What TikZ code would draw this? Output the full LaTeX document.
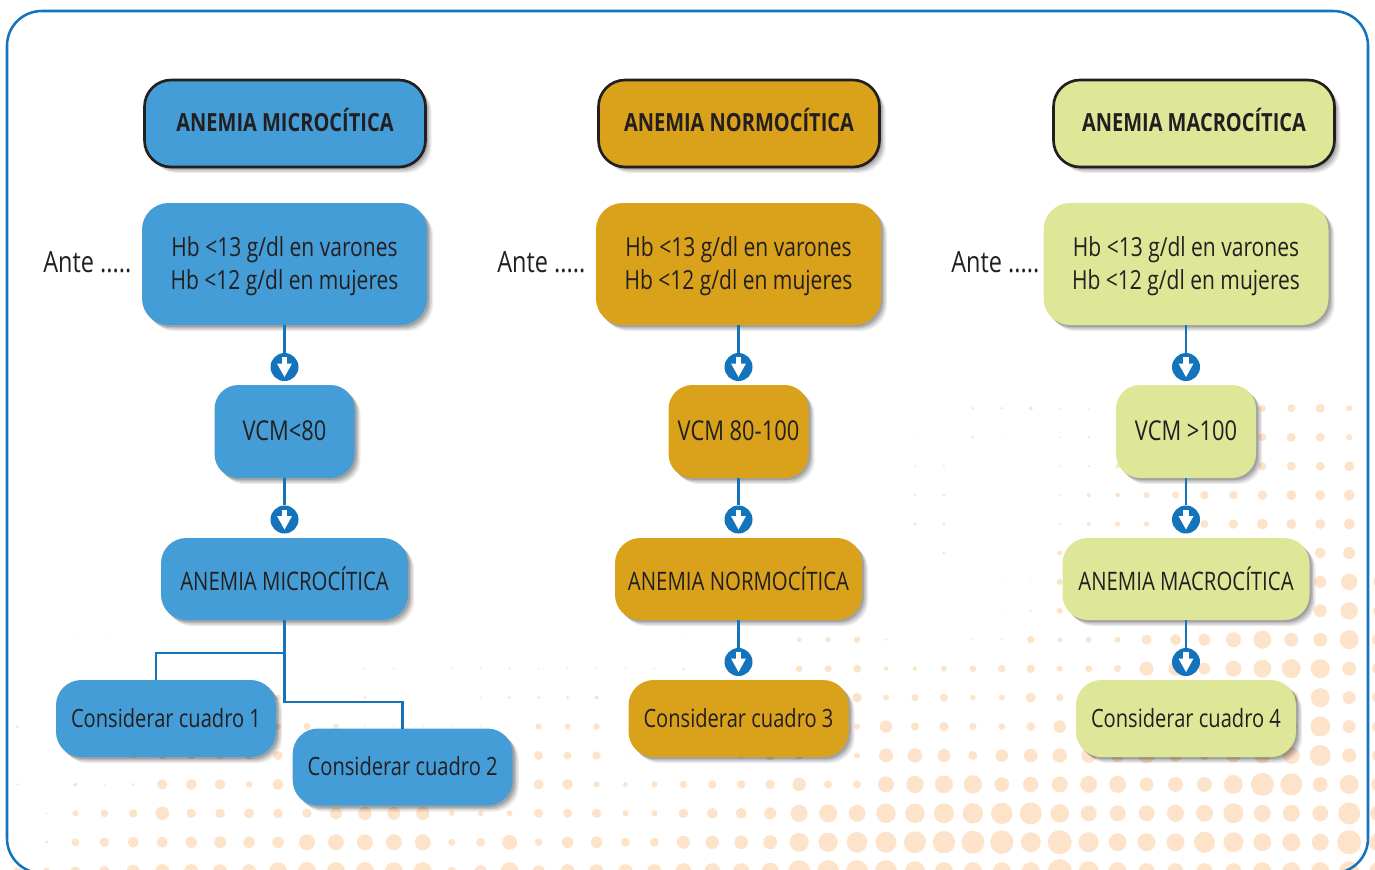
\documentclass[tikz,border=0pt]{standalone}
\usepackage{fontspec}
\setmainfont[FakeStretch=0.8]{Open Sans}
\usetikzlibrary{shadows}
\definecolor{blueF}{HTML}{449DD6}
\definecolor{goldF}{HTML}{DAA11A}
\definecolor{greenF}{HTML}{DDE797}
\definecolor{lineC}{HTML}{1374BC}
\definecolor{dotC}{HTML}{FDE3CA}
\definecolor{inkC}{HTML}{231F20}
\newcommand\dotrow[2]{\foreach \dk/\dr in {#2}{\fill[dotC] ({17.5+28.95*\dk},{408.3+28.93*#1}) circle[radius=\dr];}}
\newcommand\hbtext{\rule{0pt}{18.5pt}Hb <13 g/dl en varones\\Hb <12 g/dl en mujeres}
\tikzset{
  softshadow/.style={
    general shadow={fill=black,opacity=.07,shadow xshift=4.6pt,shadow yshift=-4.6pt},
    general shadow={fill=black,opacity=.09,shadow xshift=3.6pt,shadow yshift=-3.6pt},
    general shadow={fill=black,opacity=.12,shadow xshift=2.6pt,shadow yshift=-2.6pt},
    general shadow={fill=black,opacity=.15,shadow xshift=1.5pt,shadow yshift=-1.5pt}},
  size/.style 2 args={minimum width=#1*0.75pt,minimum height=#2*0.75pt},
  box/.style={softshadow,inner sep=0pt,outer sep=0pt,text=inkC,align=center},
  headbox/.style={box,draw=inkC,line width=2pt,size={281}{87},rounded corners=20pt,
    text depth=5pt,font=\fontsize{18.75pt}{24pt}\selectfont\bfseries},
  hbbox/.style={box,size={285}{122},rounded corners=20pt,
    font=\fontsize{19.7pt}{24.75pt}\selectfont},
  vcmbox/.style={box,size={140}{93},rounded corners=18pt,text depth=1.5pt,
    font=\fontsize{20.5pt}{24pt}\selectfont},
  anebox/.style={box,size={247}{82},rounded corners=19pt,
    font=\fontsize{19.1pt}{24pt}\selectfont},
  cuabox/.style={box,size={220}{77},rounded corners=19pt,
    font=\fontsize{18.85pt}{24pt}\selectfont},
  antetext/.style={text=inkC,inner sep=0pt,font=\fontsize{22pt}{26pt}\selectfont},
  link/.style={draw=lineC,line width=2.1pt},
  arrowdot/.style={circle,fill=lineC,inner sep=0pt,minimum size=21pt,
    path picture={
      \fill[white] ([shift={(-2.7,-10)}]path picture bounding box.center) rectangle ([shift={(2.7,-2)}]path picture bounding box.center);
      \fill[white] ([shift={(-7.5,-3.5)}]path picture bounding box.center) -- ([shift={(7.5,-3.5)}]path picture bounding box.center) -- ([shift={(0,10)}]path picture bounding box.center) -- cycle;
    }},
}
\begin{document}
\begin{tikzpicture}[x=0.75pt,y=-0.75pt]
\useasboundingbox (0,0) rectangle (1375,869);
\clip (0,0) rectangle (1375,869);
% halftone dots
\dotrow{0}{33/1.5,34/1.5,35/2,36/1,37/1,43/3.5,44/4,45/4.5,46/3}
\dotrow{1}{31/0.7,33/1.5,34/0.7,35/0.5,36/1,37/1.2,43/4,44/4.5,45/4.5,46/3.2}
\dotrow{2}{31/1,32/1.2,34/0.5,35/0.5,36/1,37/1.2,38/2,43/4,44/4.5,45/4.5,46/5,47/2}
\dotrow{3}{31/1.3,32/1.5,36/1.3,37/2,38/2.3,39/3,40/3.5,41/4.2,42/4.3,43/4.7,44/5,45/5,46/5.5,47/3}
\dotrow{4}{31/1.7,32/1.7,36/1.5,37/2,38/2.5,39/2.7,40/3.5,41/4,42/4.7,43/5.5,44/5,45/5,46/5.5,47/3}
\dotrow{5}{31/0.3,32/1.5,34/0.3,35/0.3,36/2.5,45/5.5,46/6,47/3}
\dotrow{6}{31/0.3,34/0.7,35/0.7,36/3,45/6,46/8.3,47/5}
\dotrow{7}{32/0.3,33/0.5,34/0.7,35/1.2,36/3,45/6.5,46/8.7,47/5}
\dotrow{8}{2/0.7,3/0.7,12/0.3,17/0.3,18/0.3,21/0.3,22/0.5,23/0.8,27/2.3,28/2.7,29/3.3,30/1.2,31/0.5,32/0.7,33/1,34/1,35/3.7,36/2.5,37/3,38/3,39/5,40/5.5,41/6,42/7.5,43/9,44/7,45/7,46/9.5,47/6}
\dotrow{9}{12/1,13/1,15/1,16/1,17/1.2,18/1,19/1,20/1,21/1,22/1,23/1.5,26/0.4,27/3.3,28/3.5,29/4,30/2.2,31/2.2,32/3,33/3.3,34/3.7,35/4.2,36/3,37/3.5,38/3.5,39/7,40/7,41/6,42/8,43/9,44/9.5,45/9.5,46/7,47/6}
\dotrow{10}{4/1.7,9/3,12/1.7,16/1,17/1.7,18/1.7,19/1.7,20/2,29/4.8,30/3,31/3.6,32/4,33/2.7,34/3,35/5,36/3.7,44/7,45/9.5,46/6.5,47/6}
\dotrow{11}{0/1.5,4/2,9/3.3,10/3.5,11/2.7,12/1,13/1,14/1,15/0.8,16/1,17/0.7,18/3,19/3,20/3.3,29/3,30/6.2,31/4.2,32/4.8,33/3.7,34/3.3,35/4.3,36/6.3,44/6,45/10,46/6.5,47/6}
\dotrow{12}{0/0.4,4/2.8,5/4,6/4,7/4,8/4,9/4.5,18/4.5,19/4,20/4.2,21/0.5,25/3,26/5,27/4,29/3,30/7,31/7.3,32/6.5,33/4.5,34/6.3,35/6.8,36/7.2,37/7.5,38/6.5,39/8,40/6.5,41/5,42/7,43/8,44/8.5,45/10.5,46/7,47/6}
\dotrow{13}{0/1.2,1/0.3,2/2,3/1,4/1.5,5/5.2,6/5.5,7/5.3,8/3.3,9/5.5,18/5,19/5.3,20/3,21/2.4,22/3.2,23/3.7,24/4.2,25/4.2,26/4.8,27/6.8,28/4,29/4,30/8,31/8.7,32/9,33/9.2,34/7.3,35/7.7,36/8,37/8.5,38/8.5,39/7,40/7.5,41/7.5,42/9.5,43/11.5,44/11,45/7.5,46/9.5,47/7}
\dotrow{14}{0/0.2,1/1,2/3.2,3/3.8,4/4.2,5/6.8,6/4.7,7/4.8,8/5,9/4.8,10/4.8,11/6,12/6.7,13/6.5,14/6.7,15/2.8,16/2.8,17/3,18/4.5,19/4.5,20/4.7,21/3,22/3.2,23/4.8,24/5.4,25/5.5,26/6,27/8.5,28/9,29/8.4,30/9.7,31/9.8,32/10,33/10.3,34/10.7,35/11,36/9.3,37/8,38/8,39/8,40/8.5,41/8.5,42/10,43/8.5,44/8.5,45/8,46/11,47/8}
\dotrow{15}{0/0.5,1/1.6,2/4,3/4.8,4/5.5,5/5.5,6/5.7,7/6,8/5.8,9/5.8,10/8,11/8,12/8,13/8,14/8,15/3.5,16/4.5,17/7.5,18/3.8,19/5.7,20/5.8,21/4.5,22/4.5,23/6.5,24/6.7,25/6.8,26/7,27/9.5,28/9.7,29/10.3,30/10.5,31/11,32/11.2,33/11.5,34/11.7,35/10,36/12,37/10,38/9,39/9,40/9,41/10.5,42/10,43/9,44/9,45/8.5,46/12,47/9}
\dotrow{16}{0/4,1/3.5,2/5,3/5.3,4/6.5,5/7,6/7,7/7,8/7,9/9,10/9,11/9,12/9,13/9,14/9,15/4.5,16/6,17/9,18/6,19/7,20/7,21/7,22/7,23/8,24/8,25/8,26/8.5,27/11,28/11,29/11,30/11,31/10,32/9,33/9,34/9,35/9,36/12,37/10,38/9,39/8,40/8,41/8,42/8,43/9,44/9,45/9,46/10,47/9}
% frame
\draw[lineC,line width=1.9pt,rounded corners=26pt] (7,11) rectangle (1368,873);
% column 1
\node[headbox,fill=blueF] (h1) at (285,123.5) {ANEMIA MICROCÍTICA};
\node[hbbox,fill=blueF] (b1) at (284.5,264) {\hbtext};
\node[vcmbox,fill=blueF] (v1) at (284.5,431.5) {VCM<80};
\node[anebox,fill=blueF] (a1) at (284.5,579) {ANEMIA MICROCÍTICA};
\node[cuabox,fill=blueF] (c1) at (166,718.5) {Considerar cuadro 1};
\node[cuabox,fill=blueF,text depth=1.5pt] (c2) at (402.7,767) {Considerar cuadro 2};
\node[antetext,anchor=west] (t1) at (43,262) {Ante .....};
% column 2
\node[headbox,fill=goldF] (h2) at (739,123.5) {ANEMIA NORMOCÍTICA};
\node[hbbox,fill=goldF] (b2) at (738.5,264) {\hbtext};
\node[vcmbox,fill=goldF] (v2) at (738.5,431.5) {VCM 80-100};
\node[anebox,fill=goldF] (a2) at (738.5,579) {ANEMIA NORMOCÍTICA};
\node[cuabox,fill=goldF] (c3) at (738.5,718.5) {Considerar cuadro 3};
\node[antetext,anchor=west] (t2) at (497,262) {Ante .....};
% column 3
\node[headbox,fill=greenF] (h3) at (1194,123.5) {ANEMIA MACROCÍTICA};
\node[hbbox,fill=greenF] (b3) at (1186,264) {\hbtext};
\node[vcmbox,fill=greenF] (v3) at (1186,431.5) {VCM >100};
\node[anebox,fill=greenF] (a3) at (1186,579) {ANEMIA MACROCÍTICA};
\node[cuabox,fill=greenF] (c4) at (1186,718.5) {Considerar cuadro 4};
\node[antetext,anchor=west] (t3) at (951,262) {Ante .....};
% arrow discs
\node[arrowdot] (d1) at (284.5,367) {};
\node[arrowdot] (d2) at (284.5,519.5) {};
\node[arrowdot] (d3) at (738.5,367) {};
\node[arrowdot] (d4) at (738.5,519.5) {};
\node[arrowdot] (d5) at (738.5,662) {};
\node[arrowdot] (d6) at (1186,367) {};
\node[arrowdot] (d7) at (1186,519.5) {};
\node[arrowdot] (d8) at (1186,662) {};
% connectors
\draw[link] (b1) -- (d1);
\draw[link] (v1) -- (d2);
\draw[link] (b2) -- (d3);
\draw[link] (v2) -- (d4);
\draw[link] (a2) -- (d5);
\draw[link] (b3) -- (d6);
\draw[link] (v3) -- (d7);
\draw[link] (a3) -- (d8);
\coordinate (j1) at (284.5,653);
\coordinate (j2) at (284.5,702);
\coordinate (c1top) at (156,680);
\draw[link] (a1.south) -- (j2) -| (c2.north);
\draw[link] (j1) -| (c1top);
\end{tikzpicture}
\end{document}
